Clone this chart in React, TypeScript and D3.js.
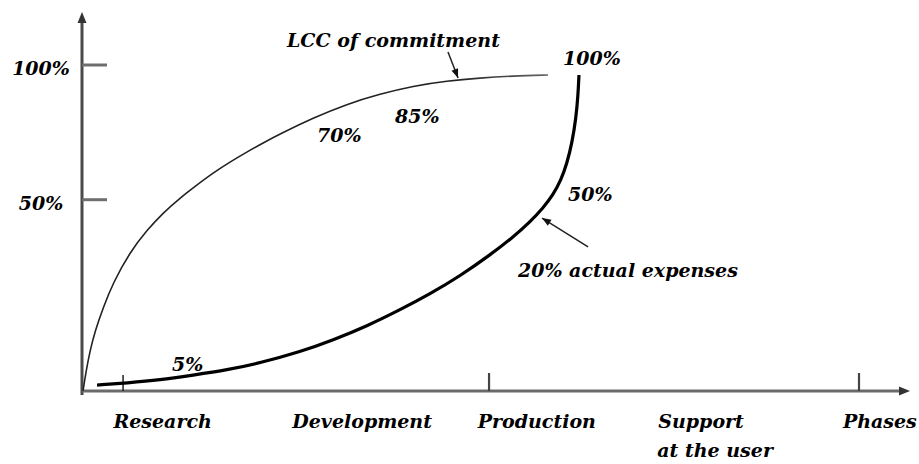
import React from "react";
import * as d3 from "d3";

// ---- data (x in phase units along the time axis, y in percent) ----
const categories = ["Research", "Development", "Production", "Support|at the user", "Phases"];
const categoryAt = [0.19, 1.27, 2.39, 3.48, 4.595];
const phaseTicks = [0.248, 2.458, 4.692];
const yTickValues = [50, 100];
const yTickLabels = ["50%", "100%"];

const commitX = [0.006, 0.024, 0.048, 0.079, 0.127, 0.187, 0.29, 0.393, 0.489, 0.592, 0.694, 0.791, 0.894, 0.996, 1.093, 1.196, 1.395, 1.6, 1.8, 1.999, 2.204, 2.403, 2.603, 2.814];
const commitY = [-21, -13.95, -6.15, 1.27, 9.81, 19.09, 30.59, 38.76, 45.07, 50.64, 55.46, 59.91, 64.0, 67.71, 71.05, 74.39, 80.33, 85.53, 89.24, 92.22, 94.08, 95.18, 95.92, 96.29];

const expenseX = [0.091, 0.272, 0.471, 0.67, 0.876, 1.075, 1.316, 1.516, 1.721, 1.92, 2.101, 2.283, 2.464, 2.597, 2.705, 2.784, 2.844, 2.893, 2.929, 2.959, 2.983, 2.995, 3.001];
const expenseY = [-18.8, -18, -16.9, -15.1, -13.2, -10.6, -6.5, -2.1, 3.1, 9.1, 15.0, 21.68, 29.48, 35.79, 41.73, 46.92, 51.75, 57.32, 63.63, 71.05, 80.33, 88.5, 96.29];

const annotationText = ["LCC of commitment", "70%", "85%", "100%", "50%", "20% actual expenses", "5%"];
const annotationX = [1.238, 1.419, 1.89, 2.905, 2.935, 2.633, 0.543];
const annotationY = [106.7, 71.4, 78.5, 100, 49.5, 21.3, -13.6];

const arrowFromX = [2.21, 3.056];
const arrowFromY = [104.8, 32.5];
const arrowToX = [2.271, 2.778];
const arrowToY = [95.2, 43.2];

const W = 919;
const H = 464;
const FONT = "'DejaVu Serif', serif";

export default function App() {
  const x = d3.scaleLinear().domain([0, 5]).range([82, 910]);
  const y = d3.scaleLinear().domain([-21, 100]).range([391, 65]);

  const line = d3
    .line<[number, number]>()
    .x((d) => x(d[0]))
    .y((d) => y(d[1]))
    .curve(d3.curveBasis);

  const commit = commitX.map((v, i) => [v, commitY[i]] as [number, number]);
  const expense = expenseX.map((v, i) => [v, expenseY[i]] as [number, number]);

  const x0 = x(0);
  const y0 = y(-21);
  const xEnd = x(5);

  const arrowHead = (x1: number, y1: number, x2: number, y2: number, len: number, half: number) => {
    const a = Math.atan2(y2 - y1, x2 - x1);
    const bx = x2 - len * Math.cos(a);
    const by = y2 - len * Math.sin(a);
    const px = -Math.sin(a) * half;
    const py = Math.cos(a) * half;
    return `M${x2},${y2}L${bx + px},${by + py}L${bx - px},${by - py}Z`;
  };

  const textStyle: React.CSSProperties = {
    fontFamily: FONT,
    fontStyle: "italic",
    fontWeight: "bold",
    fontSize: 19,
    fill: "#000",
  };

  const commitEnd = x(commitX[commitX.length - 1]);

  return (
    <svg
      width={W}
      height={H}
      viewBox={`0 0 ${W} ${H}`}
      style={{ position: "absolute", left: 0, top: 0, background: "#fff" }}
    >
      <defs>
        <linearGradient id="commitFade" gradientUnits="userSpaceOnUse" x1={x0} y1={0} x2={commitEnd} y2={0}>
          <stop offset="0" stopColor="#222" />
          <stop offset="0.8" stopColor="#222" />
          <stop offset="1" stopColor="#666" />
        </linearGradient>
      </defs>
      <rect x={0} y={0} width={W} height={H} fill="#fff" />

      {/* y axis */}
      <line x1={x0} y1={y0 + 4} x2={x0} y2={20} stroke="#4a4a4a" strokeWidth={3} />
      <path d={arrowHead(x0, 40, x0, 12, 11, 4.5)} fill="#333" />
      {yTickValues.map((v, i) => (
        <g key={"yt" + i}>
          <line x1={x0} x2={x0 + 25} y1={y(v)} y2={y(v)} stroke="#6e6e6e" strokeWidth={3} />
          <text x={x0 - 41} y={y(v) + 10} textAnchor="middle" style={textStyle}>
            {yTickLabels[i]}
          </text>
        </g>
      ))}

      {/* x axis */}
      <line x1={x0} y1={y0} x2={xEnd - 6} y2={y0} stroke="#6a6a6a" strokeWidth={3} />
      <path d={arrowHead(xEnd - 30, y0, xEnd, y0, 11, 4.5)} fill="#333" />
      {phaseTicks.map((t, i) => (
        <line
          key={"xt" + i}
          x1={x(t)}
          x2={x(t)}
          y1={y0}
          y2={y0 - (i === 0 ? 16 : 18)}
          stroke={i === 0 ? "#222" : "#444"}
          strokeWidth={i === 0 ? 1.5 : 2.2}
        />
      ))}
      {categories.map((c, i) => {
        const parts = c.split("|");
        return (
          <text key={"c" + i} x={x(categoryAt[i])} y={428} style={textStyle}>
            {parts.map((p, j) => (
              <tspan key={j} x={x(categoryAt[i]) - j} dy={j === 0 ? 0 : 29}>
                {p}
              </tspan>
            ))}
          </text>
        );
      })}

      {/* curves */}
      <path d={line(commit) || ""} fill="none" stroke="url(#commitFade)" strokeWidth={1.6} />
      <path d={line(expense) || ""} fill="none" stroke="#000" strokeWidth={3.2} strokeLinecap="butt" />

      {/* arrows */}
      {arrowFromX.map((fx, i) => {
        const x1 = x(fx);
        const y1 = y(arrowFromY[i]);
        const x2 = x(arrowToX[i]);
        const y2 = y(arrowToY[i]);
        return (
          <g key={"ar" + i}>
            <line x1={x1} y1={y1} x2={x2} y2={y2} stroke="#222" strokeWidth={1.5} />
            <path d={arrowHead(x1, y1, x2, y2, 9, 3.5)} fill="#111" />
          </g>
        );
      })}

      {/* annotations */}
      {annotationText.map((t, i) => (
        <text key={"a" + i} x={x(annotationX[i])} y={y(annotationY[i])} style={textStyle}>
          {t}
        </text>
      ))}
    </svg>
  );
}
